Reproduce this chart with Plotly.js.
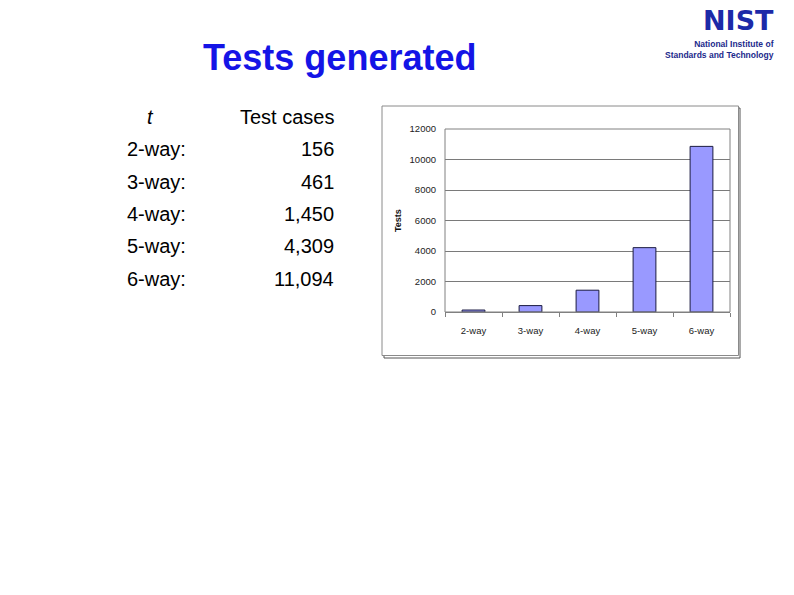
<!DOCTYPE html>
<html>
<head>
<meta charset="utf-8">
<script src="https://cdn.plot.ly/plotly-3.0.1.min.js"></script>
<style>html,body{margin:0;padding:0;background:#fff;}#chart{width:794px;height:595px;}</style>
</head>
<body>
<div id="chart"></div>
<script>
// ---- data ----
const categories = ["2-way", "3-way", "4-way", "5-way", "6-way"];
const chartTests = [130, 420, 1430, 4220, 10860];     // bar heights
const tableLabels = ["2-way:", "3-way:", "4-way:", "5-way:", "6-way:"];
const tableCases = [156, 461, 1450, 4309, 11094];
const yTicks = [0, 2000, 4000, 6000, 8000, 10000, 12000];

const W = 794, H = 595;
const px = x => x / W;
const py = y => 1 - y / H;

const annotations = [];
function txt(text, x, y, opts) {
  annotations.push(Object.assign({
    text: text, xref: "paper", yref: "paper", x: px(x), y: py(y),
    showarrow: false, xanchor: "left", yanchor: "middle", borderpad: 0,
    font: {family: "Liberation Sans, Arial, sans-serif", size: 20, color: "#000"}
  }, opts || {}));
}

// Title
txt("<b>Tests generated</b>", 339, 58, {xanchor: "center",
  font: {family: "Liberation Sans, Arial, sans-serif", size: 36, color: "#1414e6"}});

// NIST logo text
txt("<b>NIST</b>", 775, 37, {xanchor: "right", yanchor: "bottom",
  font: {family: "DejaVu Sans, sans-serif", size: 27, color: "#1c2aa8"}});
txt("<b>National Institute of<br>Standards and Technology</b>", 775, 37.5, {xanchor: "right", yanchor: "top",
  align: "right",
  font: {family: "Liberation Sans, Arial, sans-serif", size: 8.5, color: "#1c2a8c"}});

// Table
txt("<i>t</i>", 150, 117, {xanchor: "center"});
txt("Test cases", 335, 117, {xanchor: "right"});
const rowY = [149, 182, 214, 246, 279];
tableLabels.forEach((lab, i) => {
  txt(lab, 126, rowY[i]);
  txt(tableCases[i].toLocaleString("en-US"), 335, rowY[i], {xanchor: "right"});
});

// Y title for chart
txt("<b>Tests</b>", 398, 221, {xanchor: "center", textangle: -90,
  font: {family: "Liberation Sans, Arial, sans-serif", size: 9, color: "#111"}});

const shapes = [
  // chart frame shadow
  {type: "rect", xref: "paper", yref: "paper", x0: px(384), x1: px(740), y0: py(358), y1: py(108),
   line: {color: "#555", width: 1}, fillcolor: "rgba(0,0,0,0)", layer: "below"},
  // chart frame
  {type: "rect", xref: "paper", yref: "paper", x0: px(382), x1: px(738.5), y0: py(355.5), y1: py(106),
   line: {color: "#8a8a8a", width: 1}, fillcolor: "#ffffff", layer: "below"},
  // plot area border (top/right)
  {type: "rect", xref: "paper", yref: "paper", x0: px(445), x1: px(730), y0: py(312), y1: py(129),
   line: {color: "#808080", width: 1}, fillcolor: "rgba(0,0,0,0)"}
];

const trace = {
  type: "bar", x: categories, y: chartTests,
  marker: {color: "#9999ff", line: {color: "#1a1a40", width: 1}},
  hoverinfo: "x+y"
};

const layout = {
  width: W, height: H,
  margin: {l: 0, r: 0, t: 0, b: 0},
  paper_bgcolor: "#ffffff",
  plot_bgcolor: "#c0c0c0",
  showlegend: false,
  bargap: 0.6,
  xaxis: {
    domain: [px(445), px(730)],
    type: "category",
    showgrid: false, zeroline: false,
    showline: true, linecolor: "#808080", linewidth: 1,
    ticks: "outside", tickson: "boundaries", ticklen: 4, tickcolor: "#808080",
    ticklabelstandoff: 10,
    tickfont: {family: "Liberation Sans, Arial, sans-serif", size: 9.5, color: "#222"},
    fixedrange: true
  },
  yaxis: {
    domain: [py(312), py(129)],
    range: [0, 12000],
    tickvals: yTicks, tickformat: "d",
    showgrid: true, gridcolor: "#7a7a7a", gridwidth: 1,
    zeroline: false, showline: false,
    ticks: "", ticklabelstandoff: 8,
    tickfont: {family: "Liberation Sans, Arial, sans-serif", size: 9.5, color: "#222"},
    fixedrange: true
  },
  annotations: annotations,
  shapes: shapes
};

Plotly.newPlot("chart", [trace], layout, {displayModeBar: false, staticPlot: true});
</script>
</body>
</html>
